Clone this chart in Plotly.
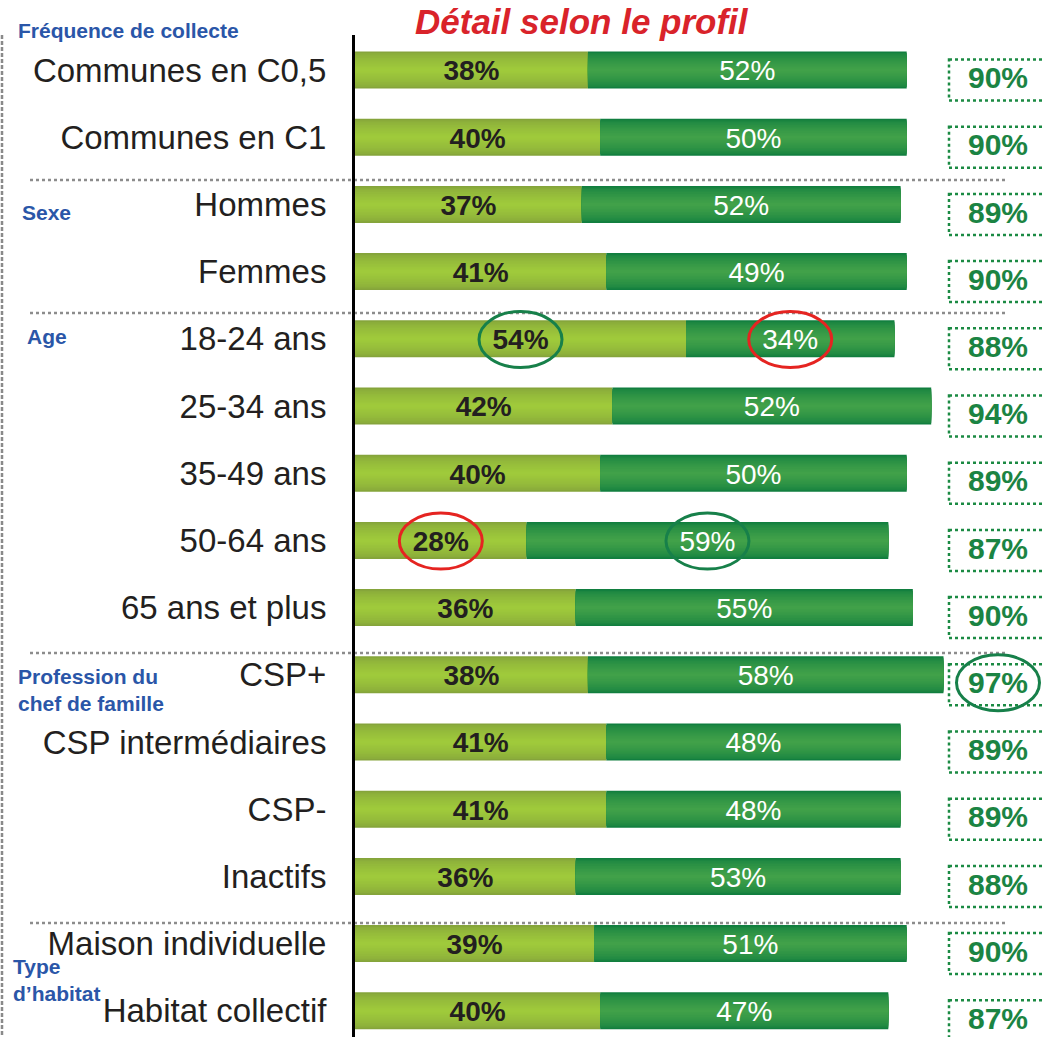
import plotly.graph_objects as go

# ---------------- data ----------------
categories = ["Communes en C0,5", "Communes en C1", "Hommes", "Femmes",
              "18-24 ans", "25-34 ans", "35-49 ans", "50-64 ans", "65 ans et plus",
              "CSP+", "CSP intermédiaires", "CSP-", "Inactifs",
              "Maison individuelle", "Habitat collectif"]
part_light = [38, 40, 37, 41, 54, 42, 40, 28, 36, 38, 41, 41, 36, 39, 40]
part_dark = [52, 50, 52, 49, 34, 52, 50, 59, 55, 58, 48, 48, 53, 51, 47]
totals = [90, 90, 89, 90, 88, 94, 89, 87, 90, 97, 89, 89, 88, 90, 87]
group_labels = ["Fréquence de collecte", "Sexe", "Age",
                "Profession du<br>chef de famille", "Type<br>d’habitat"]
title_text = "Détail selon le profil"
# highlighted values: (row, segment, colour)
highlights = [(4, "light", "green"), (4, "dark", "red"), (7, "light", "red"),
              (7, "dark", "green"), (9, "total", "green")]

# ---------------- geometry helpers ----------------
W, H = 1042, 1037
L_M, T_M = 355, 35
PX_PER_PCT = 6.13
ROW_PX = 67.2
PLOT_W = W - L_M
PLOT_H = H - T_M
x_max = PLOT_W / PX_PER_PCT
y_top = -(70 - T_M) / ROW_PX
y_bot = y_top + PLOT_H / ROW_PX


def px_x(px):
    return (px - L_M) / PLOT_W


def px_y(py):
    return (H - py) / PLOT_H


def mix(c1, c2, t):
    a = [int(c1[i:i + 2], 16) for i in (1, 3, 5)]
    b = [int(c2[i:i + 2], 16) for i in (1, 3, 5)]
    return "#" + "".join(f"{round(x + (y - x) * t):02x}" for x, y in zip(a, b))


rows = list(range(len(categories)))
FONT = "Liberation Sans, Arial, sans-serif"
NARROW = "Liberation Sans Narrow, Arial Narrow, Liberation Sans, Arial, sans-serif"

fig = go.Figure()

BAR_W = 0.55
N_LAYERS = 12
for edge, mid, xs, bases in [("#85a43b", "#9fca3b", part_light, [0] * len(rows)),
                             ("#117e3f", "#41a149", part_dark, part_light)]:
    for k in range(N_LAYERS):
        t = k / (N_LAYERS - 1)
        w = BAR_W * (1 - t * 0.92)
        c = mix(edge, mid, (t ** 0.6))
        fig.add_trace(go.Bar(y=rows, x=xs, base=bases, orientation="h",
                             width=w, marker=dict(color=c, line=dict(width=0)),
                             showlegend=False, hoverinfo="skip"))

label_dy = 0.05
light_x = [v / 2 for v in part_light]
dark_x = [a + b / 2 for a, b in zip(part_light, part_dark)]
fig.add_trace(go.Scatter(x=light_x, y=[r + label_dy for r in rows], mode="text",
                         text=[f"{v}%" for v in part_light],
                         textfont=dict(family=NARROW, size=28, color="#231f20", weight="bold"),
                         showlegend=False, hoverinfo="skip", cliponaxis=False))
fig.add_trace(go.Scatter(x=dark_x, y=[r + label_dy for r in rows], mode="text",
                         text=[f"{v}%" for v in part_dark],
                         textfont=dict(family=NARROW, size=28, color="white"),
                         showlegend=False, hoverinfo="skip", cliponaxis=False))

# totals in dotted boxes
box_x0 = px_x(949)
box_x1 = px_x(1047)
box_dy = 10 / ROW_PX
box_h = 20.5 / ROW_PX
total_x = (998 - L_M) / PX_PER_PCT
fig.add_trace(go.Scatter(x=[total_x] * len(rows), y=[r + box_dy + 0.01 for r in rows], mode="text",
                         text=[f"{v}%" for v in totals],
                         textfont=dict(family=FONT, size=30, color="#1b8443", weight="bold"),
                         showlegend=False, hoverinfo="skip", cliponaxis=False))
shapes = []
for r in rows:
    shapes.append(dict(type="rect", xref="paper", yref="y", x0=box_x0, x1=box_x1,
                       y0=r + box_dy - box_h, y1=r + box_dy + box_h,
                       line=dict(color="#1b8a43", width=2.5, dash="dot"), layer="above"))

# group separators (dotted gray)
for py in [180, 313, 653, 923]:
    shapes.append(dict(type="line", xref="paper", yref="paper", x0=px_x(30), x1=px_x(1005),
                       y0=px_y(py), y1=px_y(py),
                       line=dict(color="#8c8c8c", width=2.5, dash="dot"), layer="below"))
# left dashed frame line
shapes.append(dict(type="line", xref="paper", yref="paper", x0=px_x(2), x1=px_x(2),
                   y0=px_y(35), y1=px_y(H + 5),
                   line=dict(color="#8a8a8a", width=2.5, dash="4px,2px")))

# highlight ellipses
ell_w = 83 / PX_PER_PCT / 2
ell_h = 28 / ROW_PX
col_map = {"green": "#17804a", "red": "#e52421"}
for r, seg, c in highlights:
    if seg == "light":
        cx, cy = light_x[r], r + 0.01
    elif seg == "dark":
        cx, cy = dark_x[r], r + 0.01
    else:
        cx, cy = total_x, r + box_dy - 0.03
    shapes.append(dict(type="circle", xref="x", yref="y", x0=cx - ell_w, x1=cx + ell_w,
                       y0=cy - ell_h, y1=cy + ell_h,
                       line=dict(color=col_map[c], width=3), layer="above"))

# annotations: title and group labels
annotations = [dict(text=title_text, xref="paper", yref="paper", x=px_x(582), y=px_y(22),
                    xanchor="center", yanchor="middle", showarrow=False,
                    font=dict(family=FONT, size=35, color="#d9232a", weight="bold", style="italic"))]
group_pos = [(16, 31), (20, 212), (25, 336), (16, 690), (11, 980)]
for txt, (gx, gy) in zip(group_labels, group_pos):
    annotations.append(dict(text=txt, xref="paper", yref="paper", x=px_x(gx), y=px_y(gy),
                            xanchor="left", yanchor="middle", align="left", showarrow=False,
                            font=dict(family=FONT, size=21, color="#2a56a8", weight="bold")))

fig.update_layout(
    width=W, height=H,
    margin=dict(l=L_M, r=0, t=T_M, b=0, pad=0),
    barmode="overlay",
    plot_bgcolor="white", paper_bgcolor="white",
    shapes=shapes, annotations=annotations,
    xaxis=dict(range=[0, x_max], visible=False, fixedrange=True),
    yaxis=dict(range=[y_bot, y_top], tickvals=rows, ticktext=categories,
               tickfont=dict(family=FONT, size=33, color="#231f20"),
               ticks="outside", ticklen=19, tickcolor="rgba(0,0,0,0)",
               showline=True, linecolor="black", linewidth=3,
               showgrid=False, zeroline=False, fixedrange=True),
)

fig.write_html("out.html", config={"displayModeBar": False},
               post_script="document.body.style.margin='0';document.body.style.overflow='hidden';")
